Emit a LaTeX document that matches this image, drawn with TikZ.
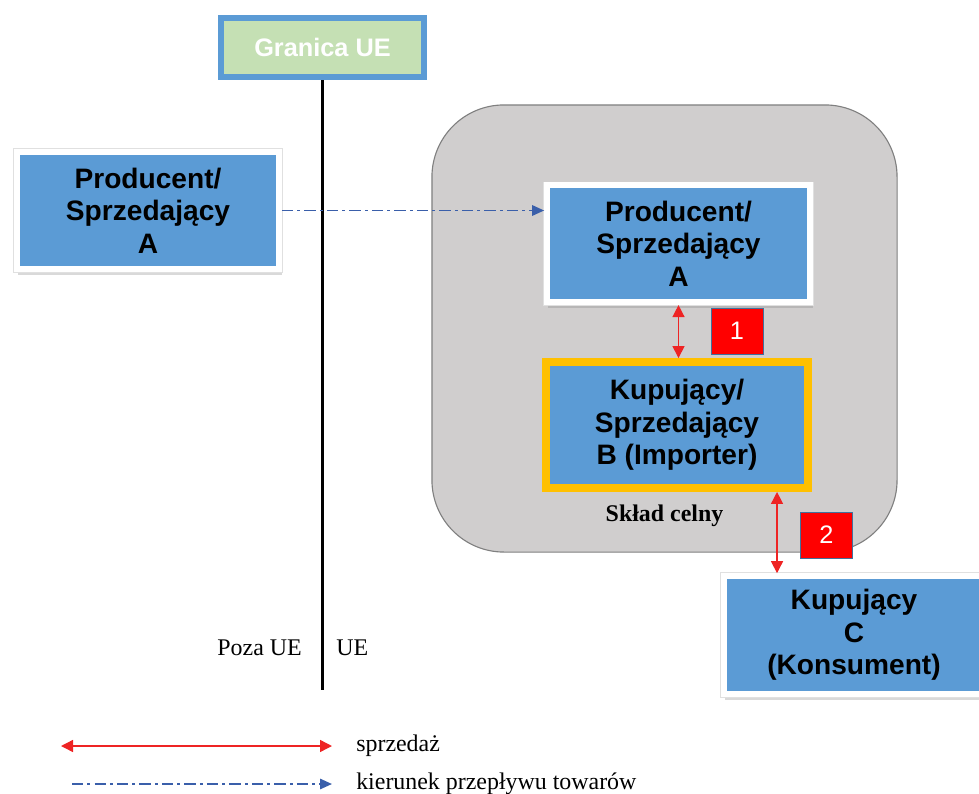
\documentclass[tikz,border=0pt]{standalone}
\usepackage{fontspec}
\setmainfont{Liberation Serif}
\setsansfont{Liberation Sans}
\usepackage{tikz}
\usepackage{xcolor}
\usetikzlibrary{arrows.meta, positioning, shadows}

\definecolor{boxblue}{RGB}{91,155,213}
\definecolor{paleGreen}{RGB}{197,224,180}
\definecolor{goldline}{RGB}{255,192,0}
\definecolor{storegrey}{RGB}{208,206,206}
\definecolor{flowblue}{RGB}{58,95,170}
\definecolor{salered}{RGB}{238,36,36}
\definecolor{badgeline}{RGB}{65,113,156}

\begin{document}
\begin{tikzpicture}[
    x=0.025cm, y=-0.025cm,
    party/.style={
        rectangle,
        draw=white,
        line width=4pt,
        fill=boxblue,
        align=center,
        font=\sffamily\bfseries\fontsize{20}{23}\selectfont,
        drop shadow={shadow xshift=1.5pt, shadow yshift=-3.5pt, shadow scale=1.01, opacity=0.3},
        preaction={draw=black!12, line width=5.2pt}
    },
    importer/.style={
        rectangle,
        draw=goldline,
        line width=5.3pt,
        fill=boxblue,
        align=center,
        font=\sffamily\bfseries\fontsize{20}{23}\selectfont
    },
    badge/.style={
        rectangle,
        draw=badgeline,
        line width=0.6pt,
        fill=red,
        text=white,
        minimum width=1.3cm,
        minimum height=1.15cm,
        font=\sffamily\fontsize{18}{20}\selectfont
    },
    note/.style={inner sep=0pt, font=\fontsize{17}{20}\selectfont},
    sale/.style={{Triangle[length=3mm, width=3mm]}-{Triangle[length=3mm, width=3mm]}, salered, line width=1pt},
    flow/.style={-{Triangle[length=3mm, width=2.6mm]}, flowblue, line width=1.3pt,
        dash pattern=on 8pt off 3pt on 2pt off 3pt}
]
\useasboundingbox (0,0) rectangle (979,794);

\node[rectangle, rounded corners=1.8cm, draw=gray, line width=0.8pt, fill=storegrey,
      minimum width=11.625cm, minimum height=11.175cm] (warehouse) at (664.5,328.5) {};
\node[note, font=\bfseries\fontsize{17}{20}\selectfont, above=0.65cm of warehouse.south] (storeLabel) {Skład celny};

\node[rectangle, draw=boxblue, line width=4.3pt, fill=paleGreen, text=white,
      font=\sffamily\bfseries\fontsize{18}{20}\selectfont,
      minimum width=5.075cm, minimum height=1.475cm] (granica) at (322.5,47.5) {Granica UE};
\coordinate (borderEnd) at (322.5,690);

\node[party, minimum width=6.55cm, minimum height=2.925cm] (prodOut) at (148,210.5) {Producent/\\Sprzedający\\A};
\node[party, minimum width=6.575cm, minimum height=2.925cm] (prodIn) at (678.5,243.75) {Producent/\\Sprzedający\\A};
\node[importer, minimum width=6.55cm, minimum height=3.16cm] (buyerB) at (677,425) {Kupujący/\\Sprzedający\\B (Importer)};
\node[party, minimum width=6.5cm, minimum height=2.95cm] (consumer) at (854,635) {Kupujący\\C\\(Konsument)};

\node[badge] (badgeOne) at (737,331) {1};
\node[badge] (badgeTwo) at (826.5,535) {2};

\draw[line width=2pt] (granica.south) -- (granica.south |- borderEnd);
\draw[flow] (prodOut.east) -- (prodOut.east -| prodIn.west);
\draw[sale] (prodIn.south) -- (prodIn.south |- buyerB.north);
\draw[sale] ([xshift=2.5cm]buyerB.south) -- ([xshift=2.5cm]buyerB.south |- consumer.north);

\node[note, anchor=east] (outsideEU) at (302,648) {Poza UE};
\node[note, anchor=west] (insideEU) at (336,648) {UE};

\coordinate (saleStart) at (61,746);
\coordinate (saleEnd) at (332,746);
\coordinate (flowStart) at (72,784);
\coordinate (flowEnd) at (332,784);
\draw[sale] (saleStart) -- (saleEnd);
\draw[flow] (flowStart) -- (flowEnd);
\node[note, right=0.6cm of saleEnd] (saleText) {sprzedaż};
\node[note, right=0.6cm of flowEnd] (flowText) {kierunek przepływu towarów};

\end{tikzpicture}
\end{document}
